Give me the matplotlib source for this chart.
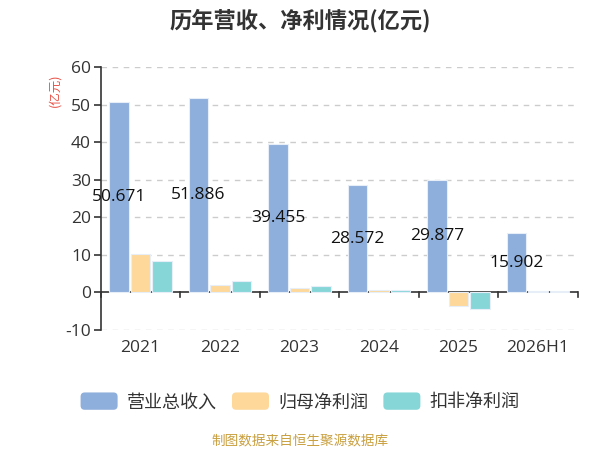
import matplotlib
matplotlib.use("Agg")
import matplotlib.pyplot as plt
import numpy as np
from matplotlib.patches import FancyBboxPatch, Patch
from matplotlib.legend_handler import HandlerPatch

plt.rcParams['font.family'] = ['Open Sans', 'Noto Sans CJK SC', 'DejaVu Sans']
cjk = ['Noto Sans CJK SC', 'DejaVu Sans']

categories = ['2021', '2022', '2023', '2024', '2025', '2026H1']
revenue = [50.671, 51.886, 39.455, 28.572, 29.877, 15.902]
net_profit = [10.1, 2.05, 1.15, 0.6, -3.5, 0.5]
deducted_profit = [8.3, 3.1, 1.8, 0.7, -4.4, 0.3]
series_names = ['营业总收入', '归母净利润', '扣非净利润']
colors = ['#8eaedb', '#fdd89a', '#86d6d8']
yticks = [-10, 0, 10, 20, 30, 40, 50, 60]

fig = plt.figure(figsize=(6, 4.5), dpi=100)
ax = fig.add_axes([0.168, 0.2667, 0.795, 0.5843])

x = np.arange(len(categories))
w = 0.245
gap = 0.025
offsets = [-(w + gap), 0, (w + gap)]
all_series = [revenue, net_profit, deducted_profit]
for s, off, c, name in zip(all_series, offsets, colors, series_names):
    ax.bar(x + off, s, width=w, color=c, edgecolor='#e8eef8', linewidth=0.8, zorder=3)

for xi, v in zip(x, revenue):
    ax.text(xi + offsets[0], v / 2, f'{v:.3f}', ha='center', va='center', fontsize=12.5, color='#111111', zorder=5)

ax.set_xlim(-0.5, len(categories) - 0.5)
ax.set_ylim(-10, 60)
ax.set_yticks(yticks)
ax.set_yticklabels([str(t) for t in yticks], fontsize=12.5, color='#333333')
for t in yticks:
    if t != 0:
        ax.axhline(t, color='#cccccc', linestyle=(0, (4, 4)), linewidth=1, zorder=1)
ax.axhline(0, color='#333333', linewidth=1.2, zorder=2.5)

for sp in ['top', 'right', 'bottom']:
    ax.spines[sp].set_visible(False)
ax.spines['left'].set_color('#333333')
ax.spines['left'].set_linewidth(1.2)
ax.tick_params(axis='y', length=5, width=1.2, color='#333333', pad=2)

ax.set_xticks(x)
ax.set_xticklabels(categories, fontsize=12.5, color='#333333')
ax.tick_params(axis='x', length=0, pad=7)
for b in np.arange(-0.5, len(categories), 1.0):
    ax.plot([b, b], [0, -1.3], color='#333333', linewidth=1.2, zorder=4, clip_on=False)

fig.text(0.092, 0.80, '(亿元)', rotation=90, color='#e8544a', fontsize=9, ha='center', va='center', family=cjk)

fig.text(0.5, 0.955, '历年营收、净利情况(亿元)', ha='center', va='center', fontsize=16, fontweight='bold', color='#333333', family=cjk)

class RoundHandler(HandlerPatch):
    def create_artists(self, legend, orig_handle, xdescent, ydescent, width, height, fontsize, trans):
        p = FancyBboxPatch((-xdescent, -ydescent), width, height,
                           boxstyle='round,pad=0,rounding_size=3',
                           facecolor=orig_handle.get_facecolor(), edgecolor='none', transform=trans)
        return [p]

handles = [Patch(facecolor=c, label=n) for c, n in zip(colors, series_names)]
leg = fig.legend(handles=handles, loc='center', bbox_to_anchor=(0.5, 0.107), ncol=3, frameon=False,
                 prop={'family': cjk, 'size': 13}, handlelength=2.05, handleheight=1.1,
                 handletextpad=0.5, columnspacing=0.85,
                 handler_map={Patch: RoundHandler()})
for t in leg.get_texts():
    t.set_color('#333333')

fig.text(0.5, 0.02, '制图数据来自恒生聚源数据库', ha='center', va='center', fontsize=9.8, color='#c9a040', family=cjk)

fig.savefig('out.png', dpi=100)
